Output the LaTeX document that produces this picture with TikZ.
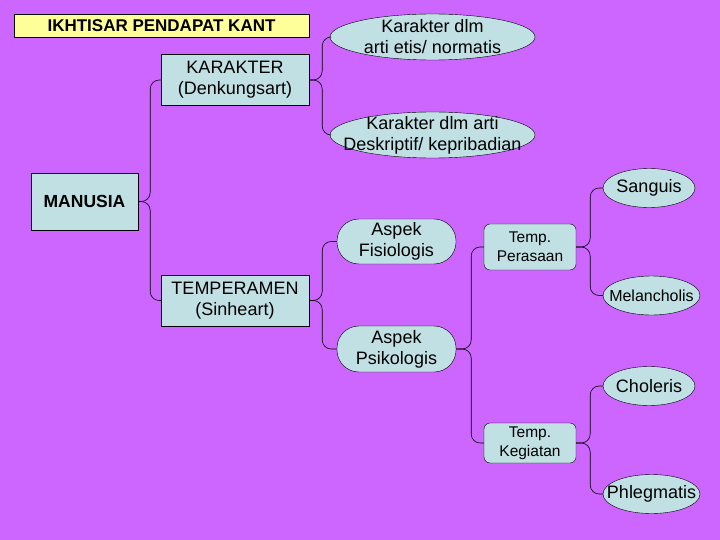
\documentclass[tikz,border=0pt]{standalone}
\usepackage{fontspec}
\setmainfont{Liberation Sans}
\definecolor{bg}{RGB}{204,102,255}
\definecolor{nf}{RGB}{192,224,228}
\definecolor{tf}{RGB}{255,255,153}
\tikzset{
  box/.style={draw=black,fill=nf,minimum width=148pt,minimum height=51pt,align=center,font=\fontsize{18}{21}\selectfont,inner sep=0pt},
  ell/.style={align=center,font=\fontsize{18}{21}\selectfont,inner sep=0pt},
  eshape/.style={draw=black,fill=nf},
  rbox/.style={draw=black,fill=nf,rounded corners=22pt,minimum width=119pt,minimum height=45pt,align=center,font=\fontsize{18}{21}\selectfont,inner sep=0pt},
  tbox/.style={draw=black,fill=nf,rounded corners=6pt,minimum width=92pt,align=center,font=\fontsize{15.5}{19}\selectfont,inner sep=0pt},
  link/.style={draw=black,rounded corners=9pt,line width=0.6pt}
}
\newcommand{\ellnode}[7][]{%
  \draw[eshape] (#3,#4) ellipse[x radius=#5/2,y radius=#6/2];
  \node[ell,minimum width=#5pt,minimum height=#6pt,#1] (#2) at (#3,#4) {#7};}
\begin{document}
\begin{tikzpicture}[x=1pt,y=-1pt]
\fill[bg] (0,0) rectangle (720,540);
\useasboundingbox (0,0) rectangle (720,540);
\node[draw=black,fill=tf,minimum width=295pt,minimum height=23pt,inner sep=0pt,font=\bfseries\fontsize{17}{19}\selectfont] (title) at (161.5,25.5) {IKHTISAR PENDAPAT KANT};
\node[box] (kar) at (235,80) {KARAKTER\\(Denkungsart)};
\node[box,minimum width=107pt,minimum height=57pt,font=\bfseries\fontsize{17.5}{19}\selectfont] (man) at (84.5,201.5) {MANUSIA};
\node[box] (tem) at (235,300.5) {TEMPERAMEN\\(Sinheart)};
\ellnode{etis}{432.5}{37}{205}{46}{Karakter dlm\\arti etis/ normatis}
\ellnode{desk}{432.5}{135}{205}{46}{Karakter dlm arti\\Deskriptif/ kepribadian}
\node[rbox] (fis) at (396.5,241.5) {Aspek\\Fisiologis};
\node[rbox,minimum height=46pt] (psi) at (396.5,349) {Aspek\\Psikologis};
\node[tbox,minimum height=46pt] (per) at (530,247) {Temp.\\Perasaan};
\node[tbox,minimum height=40pt] (keg) at (530,443) {Temp.\\Kegiatan};
\ellnode{san}{649}{188}{92}{39}{Sanguis}
\ellnode[font=\fontsize{16}{19}\selectfont]{mel}{651.5}{295.5}{97}{39}{Melancholis}
\ellnode{cho}{649}{386}{92}{39}{Choleris}
\ellnode{phl}{651.5}{494}{97}{39}{Phlegmatis}
\draw[link] (man.east) -- ++(12,0) |- (kar.west);
\draw[link] (man.east) -- ++(12,0) |- (tem.west);
\draw[link] (kar.east) -- ++(13,0) |- (etis.west);
\draw[link] (kar.east) -- ++(13,0) |- (desk.west);
\draw[link] (tem.east) -- ++(13,0) |- (fis.west);
\draw[link] (tem.east) -- ++(13,0) |- (psi.west);
\draw[link] (psi.east) -- ++(15,0) |- (per.west);
\draw[link] (psi.east) -- ++(15,0) |- (keg.west);
\draw[link] (per.east) -- ++(14,0) |- (san.west);
\draw[link] (per.east) -- ++(14,0) |- (mel.west);
\draw[link] (keg.east) -- ++(14,0) |- (cho.west);
\draw[link] (keg.east) -- ++(14,0) |- (phl.west);
\end{tikzpicture}
\end{document}
